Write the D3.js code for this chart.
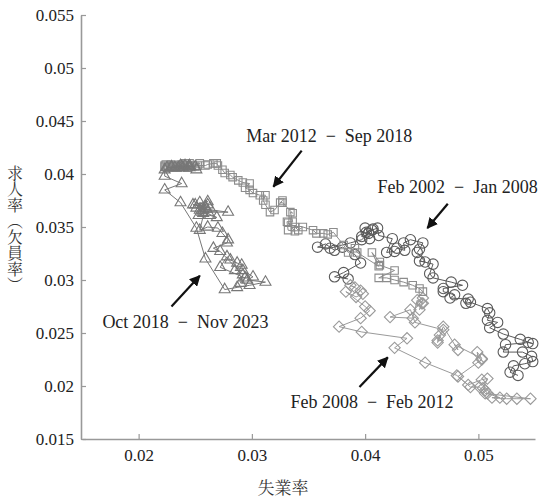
<!DOCTYPE html>
<html>
<head>
<meta charset="utf-8">
<script src="https://cdn.jsdelivr.net/npm/d3@7"></script>
<style>
  body { margin: 0; background: #fff; }
  svg { display: block; }
</style>
</head>
<body>
<svg id="chart"></svg>
<script>
// unemployment rate (x), vacancy rate (y)
var feb2002jan2008 = [
  [0.0535,0.0210],[0.0528,0.0213],[0.0531,0.0219],[0.0541,0.0221],[0.0548,0.0223],[0.0547,0.0228],
  [0.0539,0.0232],[0.0522,0.0232],[0.0524,0.0239],[0.0544,0.0241],[0.0548,0.0240],[0.0537,0.0244],
  [0.0522,0.0249],[0.0510,0.0255],[0.0517,0.0260],[0.0508,0.0262],[0.0510,0.0269],[0.0508,0.0273],
  [0.0493,0.0279],[0.0489,0.0278],[0.0491,0.0282],[0.0475,0.0283],[0.0479,0.0286],[0.0469,0.0289],
  [0.0469,0.0292],[0.0486,0.0295],[0.0476,0.0298],[0.0460,0.0302],[0.0457,0.0306],[0.0460,0.0315],
  [0.0448,0.0318],[0.0453,0.0317],[0.0446,0.0326],[0.0448,0.0329],[0.0451,0.0335],[0.0440,0.0338],
  [0.0434,0.0335],[0.0435,0.0328],[0.0428,0.0330],[0.0426,0.0327],[0.0419,0.0326],[0.0424,0.0339],
  [0.0412,0.0342],[0.0411,0.0349],[0.0406,0.0347],[0.0403,0.0344],[0.0400,0.0349],[0.0397,0.0341],
  [0.0404,0.0339],[0.0401,0.0345],[0.0407,0.0348],[0.0397,0.0338],[0.0387,0.0335],[0.0369,0.0330],
  [0.0358,0.0331],[0.0365,0.0334],[0.0373,0.0328],[0.0380,0.0331],[0.0391,0.0324],[0.0396,0.0316],
  [0.0381,0.0307],[0.0373,0.0303],[0.0385,0.0301]
];
var feb2008feb2012 = [
  [0.0391,0.0293],[0.0387,0.0295],[0.0396,0.0290],[0.0398,0.0287],[0.0392,0.0284],[0.0383,0.0289],
  [0.0400,0.0275],[0.0404,0.0271],[0.0396,0.0264],[0.0377,0.0256],[0.0397,0.0251],[0.0437,0.0245],
  [0.0426,0.0236],[0.0453,0.0222],[0.0481,0.0210],[0.0493,0.0199],[0.0501,0.0199],[0.0506,0.0193],
  [0.0546,0.0188],[0.0534,0.0188],[0.0525,0.0188],[0.0512,0.0189],[0.0519,0.0189],[0.0508,0.0193],
  [0.0506,0.0196],[0.0504,0.0198],[0.0508,0.0207],[0.0503,0.0206],[0.0491,0.0201],[0.0482,0.0209],
  [0.0503,0.0225],[0.0500,0.0222],[0.0499,0.0232],[0.0503,0.0226],[0.0479,0.0239],[0.0482,0.0234],
  [0.0469,0.0256],[0.0464,0.0243],[0.0466,0.0248],[0.0464,0.0241],[0.0469,0.0253],[0.0444,0.0260],
  [0.0440,0.0272],[0.0422,0.0265],[0.0442,0.0264],[0.0446,0.0281],[0.0450,0.0278],[0.0448,0.0272],
  [0.0451,0.0278],[0.0451,0.0283]
];
var mar2012sep2018 = [
  [0.0451,0.0289],[0.0448,0.0292],[0.0442,0.0295],[0.0434,0.0298],[0.0426,0.0300],[0.0419,0.0302],
  [0.0412,0.0302],[0.0426,0.0309],[0.0413,0.0314],[0.0413,0.0317],[0.0406,0.0326],[0.0412,0.0313],
  [0.0393,0.0326],[0.0391,0.0330],[0.0385,0.0326],[0.0381,0.0333],[0.0372,0.0345],[0.0367,0.0343],
  [0.0363,0.0344],[0.0357,0.0344],[0.0354,0.0347],[0.0345,0.0350],[0.0341,0.0347],[0.0338,0.0350],
  [0.0332,0.0354],[0.0338,0.0346],[0.0332,0.0347],[0.0331,0.0355],[0.0336,0.0355],[0.0334,0.0364],
  [0.0336,0.0363],[0.0327,0.0373],[0.0325,0.0373],[0.0327,0.0375],[0.0320,0.0366],[0.0316,0.0364],
  [0.0312,0.0371],[0.0310,0.0375],[0.0312,0.0380],[0.0307,0.0380],[0.0301,0.0382],[0.0298,0.0385],
  [0.0294,0.0387],[0.0298,0.0391],[0.0292,0.0392],[0.0288,0.0394],[0.0283,0.0397],[0.0281,0.0399],
  [0.0276,0.0401],[0.0274,0.0404],[0.0270,0.0408],[0.0269,0.0410],[0.0266,0.0410],[0.0261,0.0409],
  [0.0259,0.0408],[0.0252,0.0408],[0.0247,0.0408],[0.0243,0.0406],[0.0241,0.0410],[0.0237,0.0407],
  [0.0232,0.0408],[0.0228,0.0406],[0.0223,0.0408],[0.0229,0.0409],[0.0235,0.0406],[0.0239,0.0408],
  [0.0245,0.0410],[0.0250,0.0407],[0.0254,0.0410],[0.0244,0.0408],[0.0237,0.0409],[0.0233,0.0407],
  [0.0228,0.0408],[0.0225,0.0406],[0.0229,0.0406],[0.0224,0.0409],[0.0232,0.0407],[0.0226,0.0406],
  [0.0223,0.0407]
];
var oct2018nov2023 = [
  [0.0229,0.0407],[0.0237,0.0408],[0.0244,0.0407],[0.0239,0.0406],[0.0245,0.0406],[0.0232,0.0406],
  [0.0225,0.0406],[0.0250,0.0407],[0.0241,0.0408],[0.0235,0.0406],[0.0251,0.0404],[0.0245,0.0408],
  [0.0229,0.0406],[0.0238,0.0407],[0.0223,0.0404],[0.0223,0.0398],[0.0238,0.0391],[0.0223,0.0385],
  [0.0237,0.0373],[0.0251,0.0349],[0.0259,0.0320],[0.0276,0.0291],[0.0287,0.0293],[0.0298,0.0295],
  [0.0312,0.0298],[0.0296,0.0300],[0.0301,0.0303],[0.0292,0.0309],[0.0285,0.0309],[0.0291,0.0314],
  [0.0287,0.0316],[0.0281,0.0319],[0.0278,0.0322],[0.0272,0.0312],[0.0294,0.0302],[0.0290,0.0297],
  [0.0292,0.0305],[0.0272,0.0327],[0.0266,0.0330],[0.0278,0.0335],[0.0279,0.0338],[0.0274,0.0344],
  [0.0270,0.0349],[0.0261,0.0350],[0.0254,0.0347],[0.0259,0.0369],[0.0257,0.0363],[0.0253,0.0361],
  [0.0263,0.0361],[0.0269,0.0359],[0.0254,0.0366],[0.0248,0.0371],[0.0261,0.0374],[0.0251,0.0368],
  [0.0279,0.0364],[0.0256,0.0364],[0.0260,0.0367],[0.0250,0.0371],[0.0263,0.0368],[0.0254,0.0373],
  [0.0257,0.0366],[0.0261,0.0371]
];

var xTicks = [0.02, 0.03, 0.04, 0.05];
var xTickLabels = ["0.02", "0.03", "0.04", "0.05"];
var yTicks = [0.015, 0.02, 0.025, 0.03, 0.035, 0.04, 0.045, 0.05, 0.055];
var yTickLabels = ["0.015", "0.02", "0.025", "0.03", "0.035", "0.04", "0.045", "0.05", "0.055"];

// label text, text anchor [x,y], arrow from [x,y], arrow to [x,y]
var labelTexts = ["Mar 2012\u00a0 \u2212 \u00a0Sep 2018", "Feb 2002\u00a0 \u2212 \u00a0Jan 2008",
                  "Oct 2018\u00a0 \u2212 \u00a0Nov 2023", "Feb 2008\u00a0 \u2212 \u00a0Feb 2012"];
var labelAt = [[0.0295, 0.0430], [0.0411, 0.0382], [0.0168, 0.0255], [0.0334, 0.0179]];
var arrowFrom = [[0.0344, 0.0422], [0.0473, 0.0372], [0.0229, 0.0275], [0.0395, 0.0199]];
var arrowTo = [[0.0319, 0.0388], [0.0455, 0.0349], [0.0254, 0.0304], [0.0420, 0.0227]];

var W = 545, H = 498;
var svg = d3.select("#chart").attr("width", W).attr("height", H);

var x = d3.scaleLinear().domain([0.015, 0.055]).range([82, 535]);
var y = d3.scaleLinear().domain([0.015, 0.055]).range([439, 15]);

var serif = "'Liberation Serif'";
var mincho = "'Noto Serif CJK JP'";

// axes
var yAxis = svg.append("g")
    .attr("transform", "translate(81,0)")
    .call(d3.axisLeft(y).tickValues(yTicks)
        .tickFormat(function(d, i) { return yTickLabels[i]; })
        .tickSizeInner(-5).tickSizeOuter(0).tickPadding(7));
var xAxis = svg.append("g")
    .attr("transform", "translate(0,439)")
    .call(d3.axisBottom(x).tickValues(xTicks)
        .tickFormat(function(d, i) { return xTickLabels[i]; })
        .tickSizeInner(-5).tickSizeOuter(0).tickPadding(10));

[xAxis, yAxis].forEach(function(a) {
  a.select(".domain").attr("stroke", "#999").attr("stroke-width", 1.6);
  a.selectAll(".tick line").attr("stroke", "#999").attr("stroke-width", 1.2);
  a.selectAll(".tick text").attr("fill", "#222")
      .style("font-family", serif).style("font-size", "17px");
});

// axis titles
svg.append("text")
    .attr("x", 283).attr("y", 494)
    .attr("text-anchor", "middle")
    .style("font-family", mincho).style("font-size", "17px").attr("fill", "#333")
    .text("失業率");
svg.append("text")
    .attr("x", 15).attr("y", 229)
    .attr("text-anchor", "middle")
    .style("writing-mode", "vertical-rl")
    .style("font-family", mincho).style("font-size", "16px").attr("fill", "#333")
    .text("求人率（欠員率）");

// series
var series = [
  { data: feb2002jan2008, symbol: d3.symbolCircle, size: 85, rotate: 0, color: "#5a5a5a" },
  { data: feb2008feb2012, symbol: d3.symbolSquare, size: 64, rotate: 45, color: "#9a9a9a" },
  { data: mar2012sep2018, symbol: d3.symbolSquare, size: 56, rotate: 0, color: "#8c8c8c" },
  { data: oct2018nov2023, symbol: d3.symbolTriangle, size: 52, rotate: 0, color: "#777" }
];

var line = d3.line()
    .x(function(d) { return x(d[0]); })
    .y(function(d) { return y(d[1]); });

series.forEach(function(s) {
  var g = svg.append("g");
  g.append("path")
      .datum(s.data)
      .attr("d", line)
      .attr("fill", "none")
      .attr("stroke", s.color)
      .attr("stroke-width", 1);
  g.selectAll("path.pt")
      .data(s.data)
      .enter()
      .append("path")
      .classed("pt", true)
      .attr("d", d3.symbol().type(s.symbol).size(s.size))
      .attr("transform", function(d) {
        return "translate(" + x(d[0]) + "," + y(d[1]) + ") rotate(" + s.rotate + ")";
      })
      .attr("fill", "none")
      .attr("stroke", s.color)
      .attr("stroke-width", 1.1);
});

// annotations
svg.append("defs").append("marker")
    .attr("id", "head")
    .attr("viewBox", "0 0 10 10")
    .attr("refX", 9).attr("refY", 5)
    .attr("markerWidth", 5).attr("markerHeight", 5)
    .attr("orient", "auto")
    .append("path")
    .attr("d", "M0,0 L10,5 L0,10 z")
    .attr("fill", "#111");

labelTexts.forEach(function(t, i) {
  svg.append("text")
      .attr("x", x(labelAt[i][0])).attr("y", y(labelAt[i][1]))
      .style("font-family", serif).style("font-size", "18px").attr("fill", "#222")
      .text(t);
  svg.append("line")
      .attr("x1", x(arrowFrom[i][0])).attr("y1", y(arrowFrom[i][1]))
      .attr("x2", x(arrowTo[i][0])).attr("y2", y(arrowTo[i][1]))
      .attr("stroke", "#111").attr("stroke-width", 2.2)
      .attr("marker-end", "url(#head)");
});
</script>
</body>
</html>
